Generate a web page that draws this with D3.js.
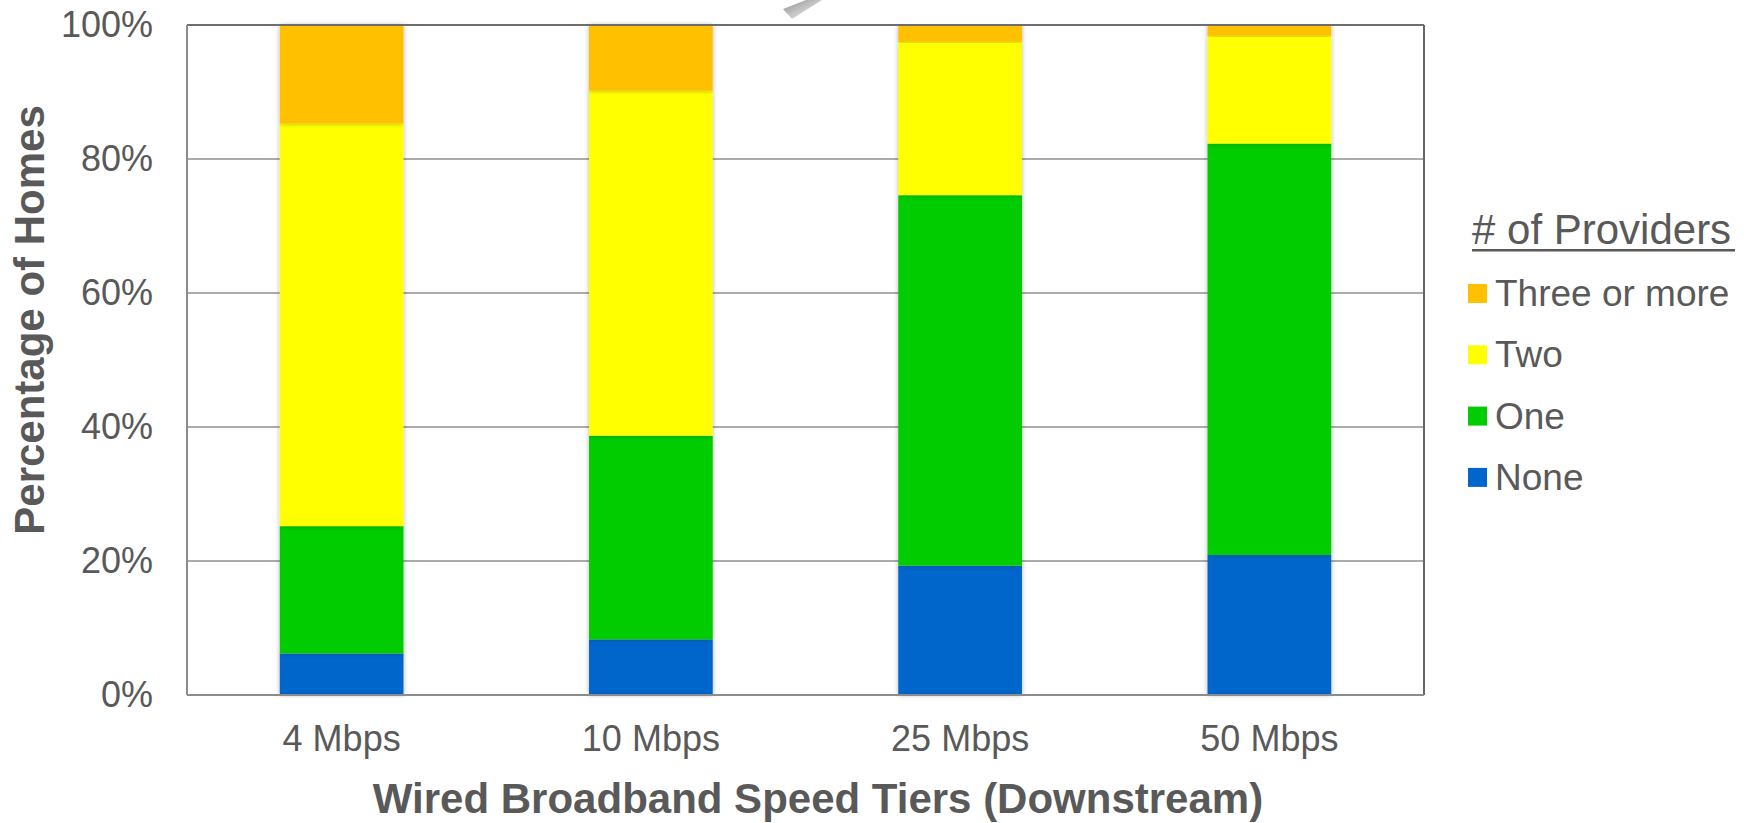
<!DOCTYPE html>
<html>
<head>
<meta charset="utf-8">
<script src="https://cdn.jsdelivr.net/npm/d3@7"></script>
<style>
  body { margin: 0; background: #fff; }
  text { font-family: "Liberation Sans", Arial, sans-serif; fill: #595959; }
</style>
</head>
<body>
<div class="chart"></div>
<script>
var categories = ["4 Mbps", "10 Mbps", "25 Mbps", "50 Mbps"];
var none = [6.2, 8.3, 19.3, 20.9];
var one = [19.0, 30.4, 55.3, 61.4];
var two = [60.1, 51.5, 22.9, 16.1];
var threeOrMore = [14.7, 9.8, 2.5, 1.6];
var yTicks = [0, 20, 40, 60, 80, 100];
var seriesNames = ["None", "One", "Two", "Three or more"];
var colors = ["#0066CC", "#00CC00", "#FFFF00", "#FFC000"];

var margin = { top: 25, right: 328, bottom: 128, left: 187 };
var fullW = 1752, fullH = 823;
var width = fullW - margin.left - margin.right;
var height = fullH - margin.top - margin.bottom;

var rows = categories.map((c, i) => ({
  cat: c, "None": none[i], "One": one[i], "Two": two[i], "Three or more": threeOrMore[i]
}));
var stacked = d3.stack().keys(seriesNames)(rows);

var root = d3.select(".chart").append("svg")
  .attr("width", fullW)
  .attr("height", fullH);

var defs = root.append("defs");
var shadow = defs.append("filter").attr("id", "shadow")
  .attr("x", "-20%").attr("y", "-5%").attr("width", "140%").attr("height", "110%");
shadow.append("feDropShadow")
  .attr("dx", 0).attr("dy", 0).attr("stdDeviation", 2.5)
  .attr("flood-color", "#000").attr("flood-opacity", 0.3);
var grad = defs.append("linearGradient").attr("id", "arrowGrad")
  .attr("x1", "0").attr("y1", "0").attr("x2", "1").attr("y2", "1");
grad.append("stop").attr("offset", "0").attr("stop-color", "#8c8c8c");
grad.append("stop").attr("offset", "1").attr("stop-color", "#ffffff");

// stray arrow tip from the original slide
root.append("path")
  .attr("d", "M783,9 L806,0 L822,0 L792,19 Z")
  .attr("fill", "url(#arrowGrad)");

var svg = root.append("g")
  .attr("transform", `translate(${margin.left}, ${margin.top})`);

var xScale = d3.scaleBand()
  .domain(categories)
  .range([0, width])
  .paddingInner(0.6)
  .paddingOuter(0.3);

var yScale = d3.scaleLinear().domain([0, 100]).range([height, 0]);

// gridlines
svg.append("g")
  .selectAll("line")
  .data(yTicks.slice(1, -1))
  .join("line")
  .attr("x1", 0).attr("x2", width)
  .attr("y1", (d) => yScale(d)).attr("y2", (d) => yScale(d))
  .attr("stroke", "#ababab").attr("stroke-width", 2);

// bars
svg.append("g")
  .selectAll("g")
  .data(stacked)
  .join("g")
  .attr("fill", (d, i) => colors[i])
  .selectAll("rect")
  .data((d) => d)
  .join("rect")
  .attr("x", (d) => xScale(d.data.cat))
  .attr("y", (d) => yScale(d[1]))
  .attr("width", xScale.bandwidth())
  .attr("height", (d) => yScale(d[0]) - yScale(d[1]))
  .attr("filter", "url(#shadow)");

// frame
svg.append("line").attr("x1", 0).attr("x2", width).attr("y1", 0).attr("y2", 0)
  .attr("stroke", "#6e6e6e").attr("stroke-width", 2);
svg.append("line").attr("x1", width).attr("x2", width).attr("y1", 0).attr("y2", height)
  .attr("stroke", "#666").attr("stroke-width", 2);
svg.append("line").attr("x1", 0).attr("x2", 0).attr("y1", 0).attr("y2", height)
  .attr("stroke", "#8c8c8c").attr("stroke-width", 2);
svg.append("line").attr("x1", 0).attr("x2", width).attr("y1", height).attr("y2", height)
  .attr("stroke", "#8c8c8c").attr("stroke-width", 2);

// y axis
var yAxis = svg.append("g")
  .call(d3.axisLeft(yScale).tickValues(yTicks).tickFormat((d) => d + "%").tickSize(0).tickPadding(34));
yAxis.select(".domain").remove();
yAxis.selectAll("text").style("font-size", "36px").attr("fill", "#595959");

// x axis
var xAxis = svg.append("g")
  .attr("transform", `translate(0, ${height})`)
  .call(d3.axisBottom(xScale).tickSize(0).tickPadding(30));
xAxis.select(".domain").remove();
xAxis.selectAll("text").style("font-size", "36px").attr("fill", "#595959");

// axis titles
root.append("text")
  .attr("x", 818).attr("y", 813)
  .attr("text-anchor", "middle")
  .style("font-size", "42px").style("font-weight", "bold")
  .text("Wired Broadband Speed Tiers (Downstream)");

root.append("text")
  .attr("transform", "translate(44, 320) rotate(-90)")
  .attr("text-anchor", "middle")
  .style("font-size", "42px").style("font-weight", "bold")
  .text("Percentage of Homes");

// legend
var legend = root.append("g").attr("transform", "translate(1468, 0)");
legend.append("text")
  .attr("x", 4).attr("y", 244)
  .style("font-size", "42px")
  .text("# of Providers");
legend.append("rect")
  .attr("x", 4).attr("y", 249).attr("width", 263).attr("height", 2.5)
  .attr("fill", "#595959");

var legendItems = seriesNames.slice().reverse();
var item = legend.selectAll(".item")
  .data(legendItems)
  .join("g")
  .attr("class", "item")
  .attr("transform", (d, i) => `translate(0, ${284 + i * 61.3})`);
item.append("rect")
  .attr("width", 19).attr("height", 19)
  .attr("fill", (d) => colors[seriesNames.indexOf(d)]);
item.append("text")
  .attr("x", 27).attr("y", 22)
  .style("font-size", "37px")
  .text((d) => d);
</script>
</body>
</html>
